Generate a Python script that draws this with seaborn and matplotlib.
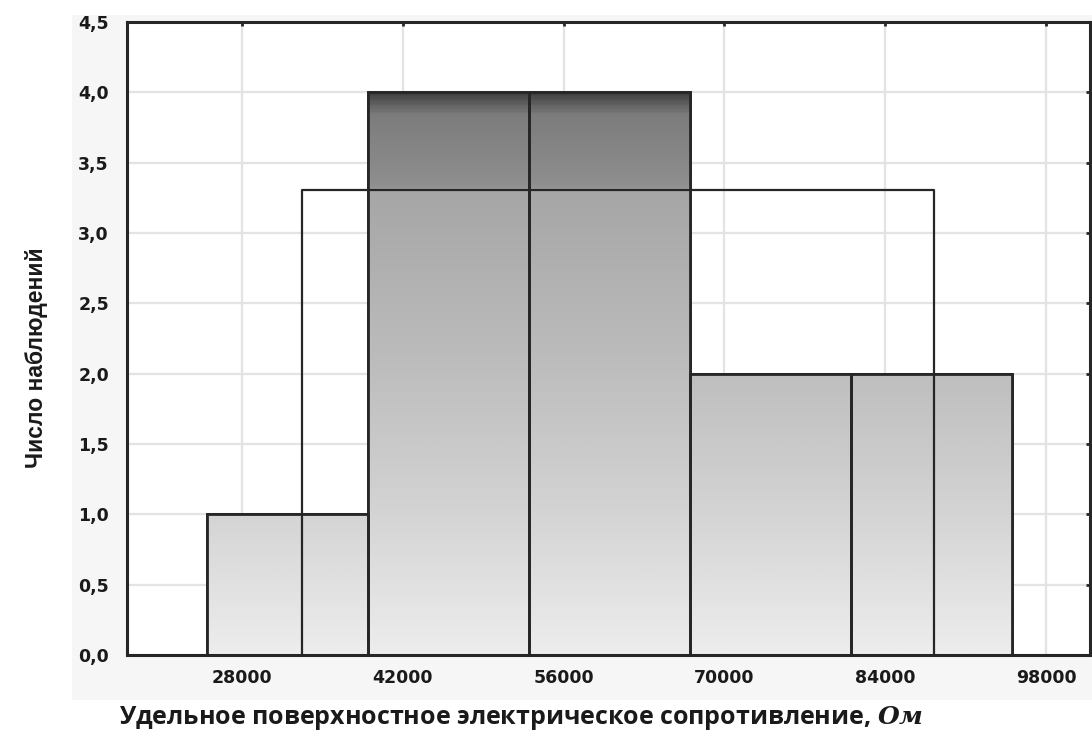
import numpy as np
import pandas as pd
import matplotlib
matplotlib.use("Agg")
import matplotlib.pyplot as plt
from matplotlib.colors import LinearSegmentedColormap
from matplotlib.patches import Rectangle
import seaborn as sns

# --- DATI ---
bin_edges = [25000, 39000, 53000, 67000, 81000, 95000]
counts = [1, 4, 4, 2, 2]
fit_min = 33200   # limiti della distribuzione uniforme attesa
fit_max = 88200
x_ticks = [28000, 42000, 56000, 70000, 84000, 98000]
y_ticks = [0.0, 0.5, 1.0, 1.5, 2.0, 2.5, 3.0, 3.5, 4.0, 4.5]

x_label = "Удельное поверхностное электрическое сопротивление, $\\mathit{Ом}$"
y_label = "Число наблюдений"

# --- STILE ---
sns.set_theme(style="whitegrid")
plt.rcParams['font.family'] = ['DejaVu Sans']
plt.rcParams['mathtext.fontset'] = 'custom'
plt.rcParams['mathtext.it'] = 'DejaVu Serif:italic:bold'
plt.rcParams['mathtext.rm'] = 'DejaVu Serif'

fig = plt.figure(figsize=(10.92, 7.36), dpi=100)
fig.patch.set_facecolor('white')
fig.patches.append(Rectangle((0.066, 0.049), 0.934, 0.931, transform=fig.transFigure,
                             facecolor='#f6f6f6', edgecolor='none', zorder=-5))
ax = fig.add_axes([0.1163, 0.110, 0.8817, 0.860])
ax.set_zorder(2)
ax.set_facecolor('white')

df = pd.DataFrame({
    'centro': [(a + b) / 2 for a, b in zip(bin_edges[:-1], bin_edges[1:])],
    'n': counts,
})
sns.histplot(data=df, x='centro', weights='n', bins=bin_edges, ax=ax,
             color='#c8c8c8', alpha=1, edgecolor='#262626', linewidth=2.0, zorder=2)

# gradiente verticale dentro le barre
cmap = LinearSegmentedColormap.from_list('grigi', [
    (0.0, '#ededed'), (1.0 / 4.5, '#d4d4d4'), (2.0 / 4.5, '#bebebe'),
    (3.3 / 4.5, '#a6a6a6'), (3.34 / 4.5, '#8f8f8f'), (3.85 / 4.5, '#7c7c7c'),
    (4.0 / 4.5, '#404040'), (1.0, '#404040')])
grad = np.linspace(0, 1, 400).reshape(-1, 1)
for p in list(ax.patches):
    im = ax.imshow(grad, cmap=cmap, origin='lower', aspect='auto',
                   extent=[10000, 110000, 0, 4.5], zorder=2.5, interpolation='bilinear')
    im.set_clip_path(p)
    edge = Rectangle(p.get_xy(), p.get_width(), p.get_height(), facecolor='none',
                     edgecolor='#262626', linewidth=2.0, zorder=3)
    ax.add_patch(edge)

# distribuzione uniforme attesa
n_tot = sum(counts)
width = bin_edges[1] - bin_edges[0]
fit_h = n_tot * width / (fit_max - fit_min)
ax.plot([fit_min, fit_min, fit_max, fit_max], [0, fit_h, fit_h, 0],
        color='#262626', linewidth=1.6, zorder=4)

ax.set_xlim(18000, 101800)
ax.set_ylim(0, 4.5)
ax.set_xticks(x_ticks)
ax.set_yticks(y_ticks)
ax.set_yticklabels([f"{v:.1f}".replace('.', ',') for v in y_ticks])
ax.tick_params(axis='both', which='both', direction='in', length=3, width=2,
               color='#262626', top=True, right=True, labelsize=12.5)
ax.tick_params(axis='x', pad=10)
ax.tick_params(axis='y', pad=13)
for lab in ax.get_xticklabels() + ax.get_yticklabels():
    lab.set_fontweight('bold')
    lab.set_color('#1a1a1a')

ax.grid(True, color='#e3e3e3', linewidth=1.6)
ax.set_axisbelow(True)
for s in ax.spines.values():
    s.set_visible(True)
    s.set_color('#262626')
    s.set_linewidth(2.2)

ax.set_xlabel(x_label, fontsize=18, fontweight='bold', family=['Open Sans', 'DejaVu Sans'],
              color='#1a1a1a')
ax.set_ylabel(y_label, fontsize=16.5, fontweight='bold', family=['Liberation Sans', 'DejaVu Sans'],
              color='#1a1a1a')
ax.xaxis.set_label_coords(0.409, -0.078)
ax.yaxis.set_label_coords(-0.082, 0.469)

plt.savefig('out.png', dpi=100)
